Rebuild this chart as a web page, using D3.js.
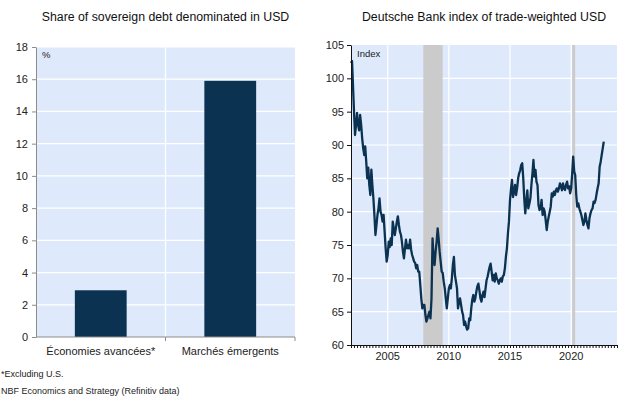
<!DOCTYPE html>
<html>
<head>
<meta charset="utf-8">
<script src="https://cdn.jsdelivr.net/npm/d3@7/dist/d3.min.js"></script>
<style>
  html, body { margin: 0; padding: 0; background: #ffffff; }
  svg { display: block; font-family: "Liberation Sans", Arial, sans-serif; }
</style>
</head>
<body>
<svg id="chart" width="618" height="396"></svg>
<script>
// ---- Left panel: share of sovereign debt in USD ----
const debtCategories = ["Économies avancées*", "Marchés émergents"];
const debtShare = [2.9, 15.9];
const debtTicks = [0, 2, 4, 6, 8, 10, 12, 14, 16, 18];

// ---- Right panel: Deutsche Bank trade-weighted USD index (monthly, from Jan 2002) ----
const usdStart = "2002-01";
const usdIndex = [
  102.3, 102.6, 99, 95, 91.5, 93, 94.8, 93, 92.2, 94.5, 93, 91,
  89.5, 88.5, 89.8, 87.5, 85, 86.6, 84, 82.5, 86.3, 84, 82, 79.5,
  76.5, 78, 79.5, 80.5, 82, 80, 79.5, 78.5, 79.5, 77, 74.5, 72.5,
  73.5, 75.5, 74.7, 76, 75, 78.5, 77.5, 76.5, 77.5, 78.5, 79.3, 78,
  77, 76.5, 75.5, 74, 73, 74.5, 75.8, 74.5, 75, 74.5, 75.8, 74.3,
  73.5, 73, 72.5, 72.3, 71.5, 72, 71, 71, 69, 67, 65.5, 66,
  66, 64.5, 63.5, 64, 64.5, 65, 64, 67, 76, 73, 72, 74,
  75.5, 77.5, 76, 74, 72.5, 71, 70.8, 69.5, 68.5, 67, 65.5, 67,
  68.5, 69, 68.5, 70, 72, 73.2, 70.5, 69.5, 68.5, 65.5, 66.5, 67,
  66, 65, 64.5, 63, 63.5, 62.8, 62.3, 62.5, 64, 63.7, 65.5, 66.8,
  67.5, 66.5, 67, 68, 68.8, 69.2, 68.2, 67, 66.5, 67.5, 68, 67.2,
  68.5, 69.75, 70.2, 71, 71.7, 72.2, 71, 69.7, 70.5, 69.5, 70.75, 70,
  69.7, 69.2, 69.7, 70, 69.5, 70.3, 70.5, 71.5, 73.25, 74.5, 76.8, 78.5,
  81.75, 83.5, 84.75, 82.2, 83, 84, 82.5, 83.5, 85, 85.75, 86.2, 87,
  87.25, 85, 82, 79.75, 81.5, 83.2, 80.5, 81.2, 82, 84, 85.75, 87.75,
  85.25, 86.25, 84.5, 84, 81, 80.25, 80.5, 81.75, 79.5, 80.5, 80, 78.75,
  77.25, 78.5, 79.25, 80, 80.75, 82.75, 82.25, 83, 82.5, 83.2, 83.5, 83,
  83.5, 84.25, 83.8, 83.2, 84.25, 83.5, 83.25, 84, 84.5, 83.5, 83.8, 82.75,
  83.5, 85.75, 88.25, 86, 85.5, 82.5, 80.75, 81.25, 80.5, 80, 79.5, 78.75,
  78, 78.5, 79.75, 78.75, 78, 77.5, 79, 79.75, 80.25, 80.5, 81.5, 81.3,
  81.8, 82.75, 83.5, 84.25, 86.75, 87.5, 88.5, 89.5, 90.5
];
const usdTicks = [60, 65, 70, 75, 80, 85, 90, 95, 100, 105];
const usdYearTicks = [2005, 2010, 2015, 2020];
const usdDomain = ["2002-01-01", "2023-10-01"];
const recessions = [["2007-12-01", "2009-06-30"], ["2020-02-01", "2020-04-30"]];

const titles = ["Share of sovereign debt denominated in USD", "Deutsche Bank index of trade-weighted USD"];
const footnotes = ["*Excluding U.S.", "NBF Economics and Strategy (Refinitiv data)"];

const plotBg = "#deeafc";
const navy = "#0b3251";
const svg = d3.select("#chart");

// ===== Left panel =====
const L = { x0: 36, x1: 295, y0: 47, y1: 337 };
const xL = d3.scaleBand().domain(debtCategories).range([L.x0, L.x1]).paddingInner(0.6).paddingOuter(0.3);
const xLcat = d3.scaleBand().domain(debtCategories).range([L.x0, L.x1]).padding(0);
const yL = d3.scaleLinear().domain([0, 18]).range([L.y1, L.y0]);

const gL = svg.append("g");
gL.append("rect").attr("x", L.x0).attr("y", L.y0).attr("width", L.x1 - L.x0).attr("height", L.y1 - L.y0).attr("fill", plotBg);
gL.selectAll("line.hgrid").data(debtTicks.filter(d => d > 0)).join("line")
  .attr("x1", L.x0).attr("x2", L.x1).attr("y1", d => yL(d)).attr("y2", d => yL(d))
  .attr("stroke", "#ffffff").attr("stroke-width", 1.2);
gL.selectAll("line.vgrid").data(debtCategories.slice(1)).join("line")
  .attr("x1", d => xLcat(d)).attr("x2", d => xLcat(d)).attr("y1", L.y0).attr("y2", L.y1)
  .attr("stroke", "#ffffff").attr("stroke-width", 1.2);
gL.selectAll("rect.bar").data(debtCategories).join("rect")
  .attr("x", d => xL(d)).attr("width", xL.bandwidth())
  .attr("y", (d, i) => yL(debtShare[i])).attr("height", (d, i) => yL(0) - yL(debtShare[i]))
  .attr("fill", navy);

const axLy = gL.append("g").attr("transform", `translate(${L.x0},0)`)
  .call(d3.axisLeft(yL).tickValues(debtTicks).tickSize(4).tickPadding(4).tickSizeOuter(0));
axLy.selectAll("line, path").attr("stroke", "#8c8c8c");
axLy.selectAll("text").attr("font-size", 11).attr("fill", "#222").attr("font-family", "Liberation Sans, Arial, sans-serif");

// category boundaries on the bottom axis
const xBounds = [L.x0].concat(debtCategories.map(d => xLcat(d) + xLcat.bandwidth()));
const axLx = gL.append("g").attr("transform", `translate(0,${L.y1})`);
axLx.append("line").attr("x1", L.x0).attr("x2", L.x1).attr("stroke", "#8c8c8c");
axLx.selectAll("line.tk").data(xBounds.slice(1)).join("line")
  .attr("x1", d => d).attr("x2", d => d).attr("y1", 0).attr("y2", 4).attr("stroke", "#8c8c8c");
axLx.selectAll("text").data(debtCategories).join("text")
  .attr("x", d => xLcat(d) + xLcat.bandwidth() / 2).attr("y", 18)
  .attr("text-anchor", "middle").attr("font-size", 11).attr("fill", "#222").text(d => d);

gL.append("text").attr("x", 42).attr("y", 58).attr("font-size", 9.5).attr("fill", "#222").text("%");
svg.append("text").attr("x", (L.x0 + L.x1) / 2).attr("y", 21).attr("text-anchor", "middle")
  .attr("font-size", 12.3).attr("fill", "#111").text(titles[0]);

// ===== Right panel =====
const R = { x0: 351, x1: 617, y0: 45, y1: 345 };
const parseDay = d3.timeParse("%Y-%m-%d");
const parseMonth = d3.timeParse("%Y-%m");
const xR = d3.scaleTime().domain(usdDomain.map(parseDay)).range([R.x0, R.x1]);
const yR = d3.scaleLinear().domain([60, 105]).range([R.y1, R.y0]);
const t0 = parseMonth(usdStart);
const usdSeries = usdIndex.map((v, i) => ({ date: d3.timeMonth.offset(t0, i), value: v }));

const gR = svg.append("g");
gR.append("rect").attr("x", R.x0).attr("y", R.y0).attr("width", R.x1 - R.x0).attr("height", R.y1 - R.y0).attr("fill", plotBg);
gR.selectAll("line.hgrid").data(usdTicks.filter(d => d > 60 && d < 105)).join("line")
  .attr("x1", R.x0).attr("x2", R.x1).attr("y1", d => yR(d)).attr("y2", d => yR(d))
  .attr("stroke", "#ffffff").attr("stroke-width", 1.2);
gR.selectAll("line.vgrid").data(usdYearTicks).join("line")
  .attr("x1", d => xR(new Date(d, 0, 1))).attr("x2", d => xR(new Date(d, 0, 1)))
  .attr("y1", R.y0).attr("y2", R.y1).attr("stroke", "#ffffff").attr("stroke-width", 1.2);
gR.selectAll("rect.rec").data(recessions).join("rect")
  .attr("x", d => xR(parseDay(d[0]))).attr("width", d => xR(parseDay(d[1])) - xR(parseDay(d[0])))
  .attr("y", R.y0).attr("height", R.y1 - R.y0).attr("fill", "#cbcbcb");

const line = d3.line().x(d => xR(d.date)).y(d => yR(d.value));
gR.append("path").datum(usdSeries).attr("d", line)
  .attr("fill", "none").attr("stroke", navy).attr("stroke-width", 2.3)
  .attr("stroke-linejoin", "round");

const axRy = gR.append("g").attr("transform", `translate(${R.x0},0)`)
  .call(d3.axisLeft(yR).tickValues(usdTicks).tickSize(4).tickPadding(3).tickSizeOuter(0));
axRy.selectAll("line, path").attr("stroke", "#111");
axRy.selectAll("text").attr("font-size", 11).attr("fill", "#222").attr("font-family", "Liberation Sans, Arial, sans-serif");

const axRx = gR.append("g").attr("transform", `translate(0,${R.y1})`)
  .call(d3.axisBottom(xR).ticks(d3.timeMonth.every(3)).tickSize(3).tickFormat("").tickSizeOuter(0));
axRx.selectAll("line, path").attr("stroke", "#111");
axRx.selectAll("text.yr").data(usdYearTicks).join("text").attr("class", "yr")
  .attr("x", d => xR(new Date(d, 0, 1))).attr("y", 15)
  .attr("text-anchor", "middle").attr("font-size", 11).attr("fill", "#222").text(d => d);

gR.append("text").attr("x", 357).attr("y", 57).attr("font-size", 9.5).attr("fill", "#222").text("Index");
svg.append("text").attr("x", (R.x0 + R.x1) / 2).attr("y", 21).attr("text-anchor", "middle")
  .attr("font-size", 12.3).attr("fill", "#111").text(titles[1]);

// ===== Footnotes =====
svg.selectAll("text.note").data(footnotes).join("text").attr("class", "note")
  .attr("x", 1).attr("y", (d, i) => 377 + i * 16.5)
  .attr("font-size", 9).attr("fill", "#222").text(d => d);
</script>
</body>
</html>
